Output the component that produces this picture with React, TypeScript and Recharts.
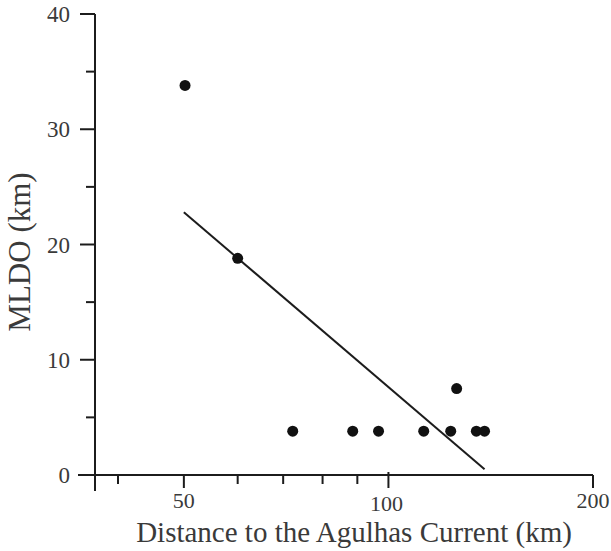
import { ScatterChart, Scatter, XAxis, YAxis, Label } from 'recharts';

// site distances (km, log axis) and MLDO (km)
const siteDistance = [50.2, 60.0, 72.3, 88.6, 96.7, 112.7, 123.5, 126.0, 134.7, 138.5];
const siteMldo = [33.8, 18.8, 3.8, 3.8, 3.8, 3.8, 3.8, 7.5, 3.8, 3.8];

// regression line end points
const fitDistance = [50, 138.5];
const fitMldo = [22.8, 0.5];

const xTicks = [37, 40, 50, 60, 70, 80, 90, 100, 200];
const xTickLabels = [50, 100, 200];
const yTicks = [0, 5, 10, 15, 20, 25, 30, 35, 40];
const yTickLabels = [0, 10, 20, 30, 40];

const sites = siteDistance.map((d, i) => ({ x: d, y: siteMldo[i] }));
const fit = fitDistance.map((d, i) => ({ x: d, y: fitMldo[i] }));

const INK = '#1c1c1c';
const TEXT = '#3a3a3a';
const FONT = '"Liberation Serif", "DejaVu Serif", serif';

function XTick(props: any) {
  const { x, y, payload } = props;
  const v = payload.value;
  const labelled = xTickLabels.includes(v);
  const len = v === 37 ? 16 : labelled ? 13 : 9;
  return (
    <g>
      <line x1={x} y1={v === 100 ? y - 3 : y} x2={x} y2={y + len} stroke={INK} strokeWidth={2} />
      {labelled && (
        <text
          x={v === 100 ? x - 2 : x}
          y={y + (v === 100 ? 36 : 33)}
          textAnchor="middle"
          fill={TEXT}
          fontSize={22}
          fontFamily={FONT}
        >
          {v}
        </text>
      )}
    </g>
  );
}

function YTick(props: any) {
  const { x, y, payload } = props;
  const v = payload.value;
  const labelled = yTickLabels.includes(v);
  const len = v === 0 ? 17 : labelled ? 15 : 9;
  return (
    <g>
      <line x1={x - len} y1={y} x2={x} y2={y} stroke={INK} strokeWidth={2} />
      {labelled && (
        <text x={x - 25} y={y + 8} textAnchor="end" fill={TEXT} fontSize={23} fontFamily={FONT}>
          {v}
        </text>
      )}
    </g>
  );
}

const Dot = (props: any) => <circle cx={props.cx} cy={props.cy} r={5.5} fill="#111" />;
const NoDot = () => <g />;

export default function App() {
  return (
    <div style={{ position: 'absolute', left: 0, top: 0, background: '#fff' }}>
      <ScatterChart width={611} height={551} margin={{ top: 14, right: 18, bottom: 0, left: 0 }}>
        <XAxis
          type="number"
          dataKey="x"
          scale="log"
          domain={[37, 200]}
          allowDataOverflow
          ticks={xTicks}
          interval={0}
          tickSize={0}
          tickMargin={0}
          tickLine={false}
          tick={<XTick />}
          height={76}
          axisLine={{ stroke: INK, strokeWidth: 2 }}
        >
          <Label
            content={() => (
              <text x={354} y={542} textAnchor="middle" fill={TEXT} fontSize={29} fontFamily={FONT}>
                Distance to the Agulhas Current (km)
              </text>
            )}
          />
        </XAxis>
        <YAxis
          type="number"
          dataKey="y"
          domain={[0, 40]}
          ticks={yTicks}
          interval={0}
          tickSize={0}
          tickMargin={0}
          tickLine={false}
          tick={<YTick />}
          width={95}
          axisLine={{ stroke: INK, strokeWidth: 2 }}
        >
          <Label
            content={() => (
              <text
                x={30}
                y={252}
                transform="rotate(-90 30 252)"
                textAnchor="middle"
                fill={TEXT}
                fontSize={31}
                fontFamily={FONT}
              >
                MLDO (km)
              </text>
            )}
          />
        </YAxis>
        <Scatter data={fit} line={{ stroke: INK, strokeWidth: 2 }} shape={NoDot} isAnimationActive={false} />
        <Scatter data={sites} shape={Dot} isAnimationActive={false} />
      </ScatterChart>
    </div>
  );
}
